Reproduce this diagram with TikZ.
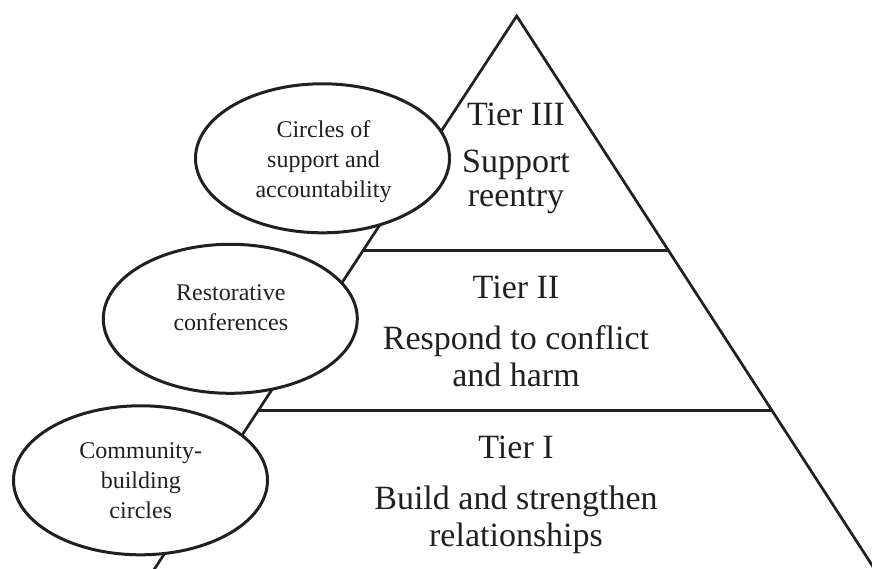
\documentclass[tikz,border=0pt]{standalone}
\usepackage{fontspec}
\setmainfont{Liberation Serif}
\usetikzlibrary{shapes.geometric,calc}
\definecolor{ink}{RGB}{35,31,32}
\begin{document}
\begin{tikzpicture}[x=1pt,y=-1pt,
  edge/.style={draw=ink,line width=2.7pt},
  bubble/.style={ellipse,draw=ink,fill=white,line width=3pt,
    minimum width=254pt,minimum height=149pt,inner sep=0pt},
  bubbletext/.style={text=ink,align=center,anchor=base,inner sep=0pt,
    font=\fontsize{24}{30}\selectfont},
  tiertitle/.style={text=ink,anchor=base,inner sep=0pt,
    font=\fontsize{34}{37}\selectfont},
  tierbody/.style={text=ink,align=center,anchor=base,inner sep=0pt,
    font=\fontsize{34}{37}\selectfont}]
\useasboundingbox (0,0) rectangle (872,569);
\clip (0,0) rectangle (872,569);

% pyramid outline, running past the bottom edge
\coordinate (apex) at (516.7,16);
\coordinate (bl) at (147.9,579);
\coordinate (br) at (881.0,579);
\draw[edge] (bl) -- (apex) -- (br);

% tier dividers
\coordinate (l3) at ($(apex)!0.4169!(bl)$);
\coordinate (r3) at ($(apex)!0.4169!(br)$);
\coordinate (l2) at ($(apex)!0.7011!(bl)$);
\coordinate (r2) at ($(apex)!0.7011!(br)$);
\draw[edge] (l3) -- (r3);
\draw[edge] (l2) -- (r2);

% tier labels (multi-line nodes sit on the baseline of their last line)
\node[tiertitle] (t3) at (516,126) {Tier III};
\node[tierbody]  (b3) at (516,207) {Support\\[-3pt]reentry};
\node[tiertitle] (t2) at (516,298) {Tier II};
\node[tierbody]  (b2) at (516,386) {Respond to conflict\\and harm};
\node[tiertitle] (t1) at (516,458) {Tier I};
\node[tierbody]  (b1) at (516,546) {Build and strengthen\\relationships};

% practice bubbles over the left edge
\node[bubble] (e3) at (322.5,158.3) {};
\node[bubble] (e2) at (230.3,318.8) {};
\node[bubble] (e1) at (140.5,480.3) {};
\node[bubbletext] (c3) at (323.5,197.3) {Circles of\\support and\\accountability};
\node[bubbletext] (c2) at (230.8,330.7) {Restorative\\conferences};
\node[bubbletext] (c1) at (140.8,518) {Community-\\building\\circles};
\end{tikzpicture}
\end{document}
